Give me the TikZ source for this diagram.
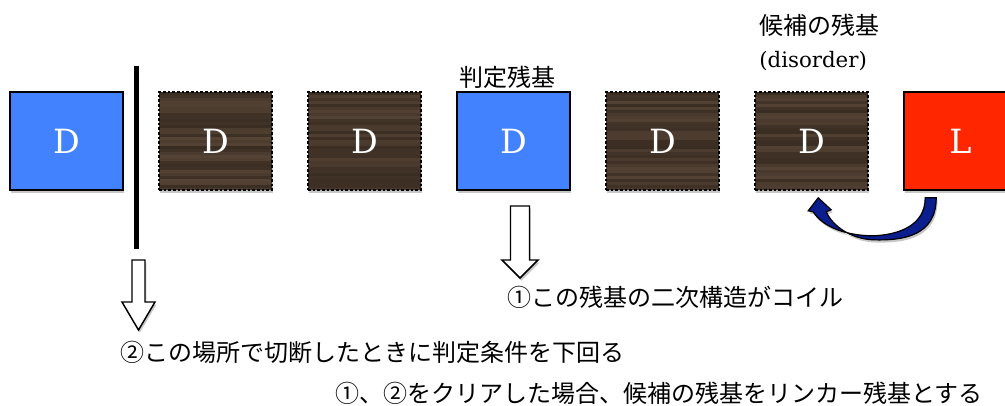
\documentclass[tikz,border=0pt]{standalone}
\usepackage{fontspec}
\newfontfamily\jp{Noto Sans CJK JP}
\newfontfamily\serifD{DejaVu Serif}
\usetikzlibrary{shadows,calc}
\definecolor{boxblue}{HTML}{4282FF}
\definecolor{boxred}{HTML}{FF2600}
\definecolor{woodbase}{HTML}{45362A}
\definecolor{woodlight}{HTML}{5E4C3B}
\definecolor{wooddark}{HTML}{33271C}
\definecolor{arrowblue}{HTML}{0A1E8E}
\begin{document}
\begin{tikzpicture}[x=0.75pt,y=-0.75pt,
  shade/.style={drop shadow={shadow xshift=1pt,shadow yshift=-2pt,opacity=0.22,fill=black}},
  box/.style={minimum width=84.75pt,minimum height=73.5pt,inner sep=0pt,text=white,
    font=\serifD\fontsize{25}{30}\selectfont,shade},
  bluebox/.style={box,fill=boxblue,draw=black,line width=1.2pt},
  redbox/.style={box,fill=boxred,draw=black,line width=1.2pt},
  wood/.style={box,fill=woodbase,draw=black,line width=1pt,dash pattern=on 2pt off 1.5pt,
    path picture={
      \foreach \k in {0,...,33}{
        \pgfmathsetmacro\op{0.15+0.5*rnd}
        \pgfmathsetmacro\cl{rnd>0.5 ? 1 : 0}
        \ifdim\cl pt>0.5pt \def\cc{woodlight}\else\def\cc{wooddark}\fi
        \fill[\cc,opacity=\op] ($(path picture bounding box.north west)+(0,\k*3)$) rectangle ++(120,3);
      }
    }},
  lbl/.style={anchor=west,inner sep=0pt,font=\jp\fontsize{18}{22}\selectfont},
  hollow/.style={draw=black,line width=1.1pt,fill=white,shade},
  curved/.style={fill=arrowblue,draw=black,line width=0.9pt,shade}
]
\useasboundingbox (0,0) rectangle (1005,405);
\pgfmathsetseed{7}
\node[bluebox] (D1) at (66.5,141) {D};
\node[wood] (D2) at (215.5,141) {D};
\node[wood] (D3) at (364.5,141) {D};
\node[bluebox] (D4) at (513.5,141) {D};
\node[wood] (D5) at (662.5,141) {D};
\node[wood] (D6) at (811.5,141) {D};
\node[redbox] (L7) at (960.5,141) {L};
% cut line
\draw[line width=3.3pt] (136.5,66) -- (136.5,249);
% labels
\node[lbl] (t1) at (459,77) {判定残基};
\node[lbl] (t2) at (759,25) {候補の残基};
\node[anchor=west,inner sep=0pt,font=\serifD\fontsize{16}{20}\selectfont] (t3) at (759,61) {(disorder)};
% hollow arrows
\draw[hollow] (510.5,206) -- (529.5,206) -- (529.5,260) -- (538,260) -- (520,278) -- (502,260) -- (510.5,260) -- cycle;
\draw[hollow] (132,260) -- (145,260) -- (145,302) -- (155,302) -- (138.5,330) -- (122,302) -- (132,302) -- cycle;
% texts
\node[lbl] (c1) at (507,297) {①この残基の二次構造がコイル};
\node[lbl] (c2) at (120,352) {②この場所で切断したときに判定条件を下回る};
\node[lbl] (c3) at (335,393) {①、②をクリアした場合、候補の残基をリンカー残基とする};
% curved arrow from L to candidate D
\begin{scope}[shift={(L7.south west)}]
\path[curved] (22,7) -- (33,7) .. controls (33,45) and (0,50) .. (-30,49)
  .. controls (-52,48) and (-70,36) .. (-77,21) -- (-72,19) -- (-85,7) -- (-95,20) -- (-90,21)
  .. controls (-80,37) and (-55,45) .. (-30,45)
  .. controls (-5,44) and (22,35) .. (22,7) -- cycle;
\end{scope}
\end{tikzpicture}
\end{document}
